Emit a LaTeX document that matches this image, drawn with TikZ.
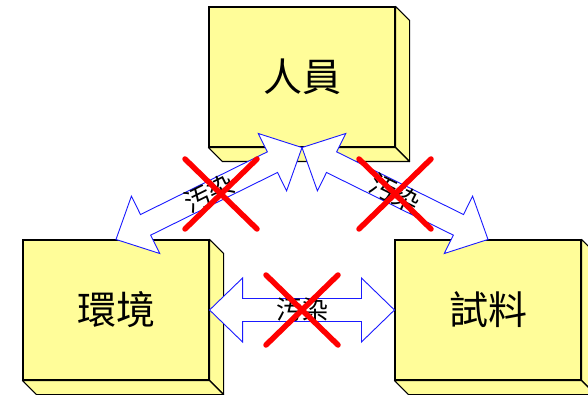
\documentclass[tikz,border=0pt]{standalone}
\usepackage{fontspec}
\newfontfamily\cjk{Noto Sans CJK TC}
\usetikzlibrary{calc}
\definecolor{boxyellow}{HTML}{FFFD99}
\definecolor{arrowblue}{HTML}{1A1AFF}
\definecolor{xred}{HTML}{FF0000}
\tikzset{
  frontbox/.style={draw=black, line width=1.1pt, fill=boxyellow, minimum width=186pt, minimum height=140pt, inner sep=0pt, font=\cjk\fontsize{39}{44}\selectfont},
  depthface/.style={draw=black, line width=1.1pt, fill=boxyellow, line join=round},
  blockarrowstyle/.style={draw=arrowblue, line width=0.9pt, fill=white, line join=miter},
  arrowlabel/.style={font=\cjk\fontsize{26}{28}\selectfont, inner sep=0pt},
  redx/.style={draw=xred, line width=5.5pt, line cap=round}
}
\newcommand{\cubedepth}[1]{%
  \draw[depthface] (#1.north east) -- ++(14,14) -- ($(#1.south east)+(14,14)$) -- (#1.south east) -- cycle;
  \draw[depthface] (#1.south west) -- ++(14,14) -- ($(#1.south east)+(14,14)$) -- (#1.south east) -- cycle;
}
\newcommand{\blockarrow}[2]{%
  \coordinate (ha) at ($(#1)!33pt!(#2)$);
  \coordinate (hb) at ($(#2)!33pt!(#1)$);
  \draw[blockarrowstyle] (#1) -- ($(ha)!32pt!90:(#2)$) -- ($(ha)!11.5pt!90:(#2)$)
    -- ($(hb)!11.5pt!-90:(#1)$) -- ($(hb)!32pt!-90:(#1)$) -- (#2)
    -- ($(hb)!32pt!90:(#1)$) -- ($(hb)!11.5pt!90:(#1)$)
    -- ($(ha)!11.5pt!-90:(#2)$) -- ($(ha)!32pt!-90:(#2)$) -- cycle;
}
\begin{document}
\begin{tikzpicture}[x=1pt, y=-1pt]
\useasboundingbox (0,0) rectangle (588,395);
\fill[white] (0,0) rectangle (588,395);
% boxes
\node[frontbox] (staff) at (302,77) {人員};
\cubedepth{staff}
\node[frontbox] (env) at (116,310) {環境};
\cubedepth{env}
\node[frontbox] (sample) at (488,310) {試料};
\cubedepth{sample}
% arrows
\blockarrow{env.north}{staff.south}
\blockarrow{staff.south}{sample.north}
\blockarrow{env.east}{sample.west}
% labels
\path (env.north) -- (staff.south) node[arrowlabel, midway, sloped] (l1) {汚染};
\path (staff.south) -- (sample.north) node[arrowlabel, midway, sloped] (l2) {汚染};
\path (env.east) -- (sample.west) node[arrowlabel, midway] (l3) {汚染};
% crosses
\coordinate (x1) at (221,194);
\coordinate (x2) at (395,194);
\coordinate (x3) at (302,310);
\foreach \c in {x1,x2,x3}{
  \draw[redx] ($(\c)+(-36,-35)$) -- ($(\c)+(36,35)$);
  \draw[redx] ($(\c)+(36,-35)$) -- ($(\c)+(-36,35)$);
}
\end{tikzpicture}
\end{document}
